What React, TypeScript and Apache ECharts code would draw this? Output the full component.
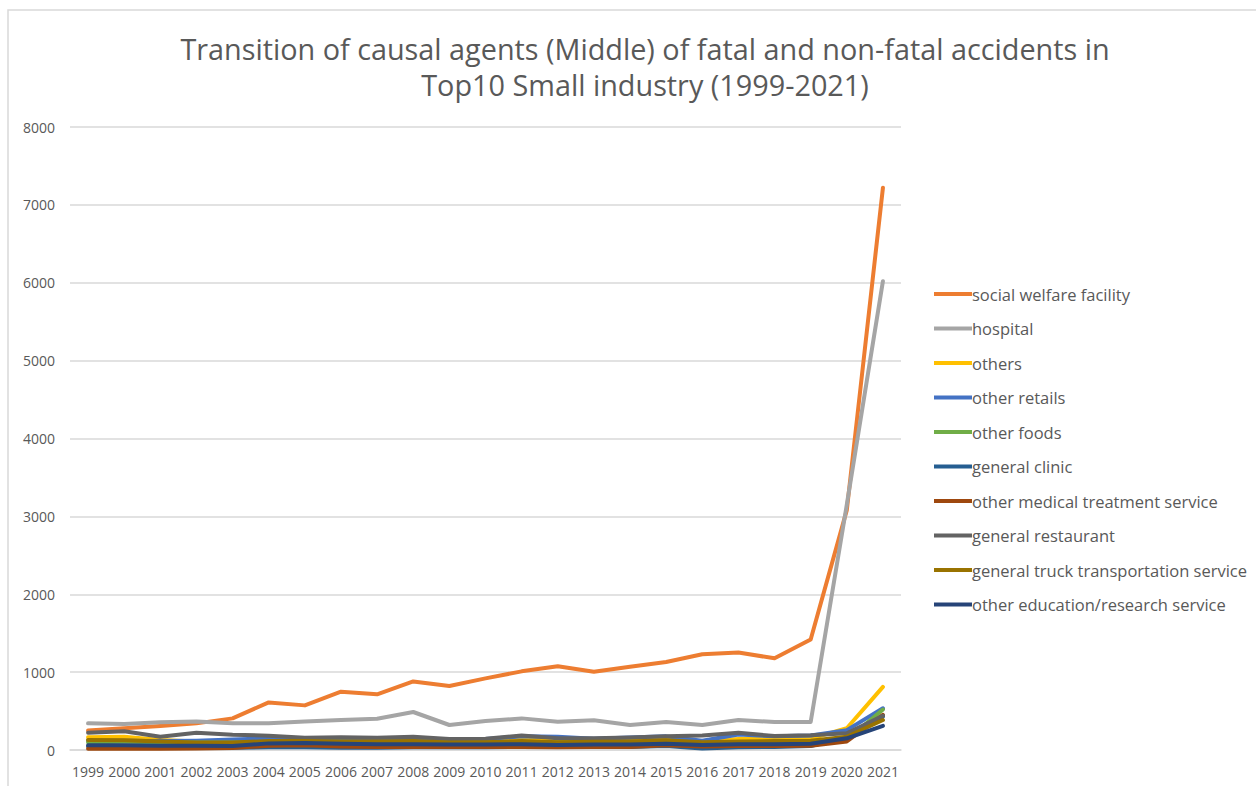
import React, { useEffect, useRef } from "react";
import * as echarts from "echarts";

const years = ["1999","2000","2001","2002","2003","2004","2005","2006","2007","2008","2009","2010","2011","2012","2013","2014","2015","2016","2017","2018","2019","2020","2021"];

const seriesNames = [
  "social welfare facility",
  "hospital",
  "others",
  "other retails",
  "other foods",
  "general clinic",
  "other medical treatment service",
  "general restaurant",
  "general truck transportation service",
  "other education/research service",
];

const socialWelfare = [250, 280, 308, 342, 406, 611, 573, 749, 715, 881, 821, 920, 1010, 1075, 1005, 1068, 1130, 1230, 1252, 1177, 1420, 3080, 7220];
const hospital = [342, 334, 355, 365, 342, 343, 365, 385, 402, 488, 321, 372, 406, 364, 381, 321, 359, 321, 385, 359, 359, 3150, 6020];
const others = [165, 170, 130, 110, 110, 120, 130, 140, 135, 130, 110, 115, 140, 110, 115, 120, 135, 110, 140, 150, 145, 280, 810];
const otherRetails = [120, 120, 115, 120, 135, 150, 145, 150, 150, 140, 130, 140, 175, 170, 145, 160, 175, 120, 200, 175, 185, 255, 535];
const otherFoods = [100, 105, 100, 95, 95, 100, 100, 105, 100, 100, 95, 95, 100, 95, 100, 95, 100, 90, 100, 100, 100, 130, 520];
const generalClinic = [45, 45, 40, 35, 30, 35, 35, 30, 30, 35, 35, 35, 40, 40, 40, 40, 50, 20, 35, 40, 50, 160, 430];
const otherMedical = [15, 15, 15, 20, 25, 55, 60, 45, 40, 40, 40, 40, 40, 35, 40, 40, 60, 45, 50, 50, 55, 110, 450];
const generalRestaurant = [222, 240, 171, 222, 197, 184, 158, 163, 158, 171, 141, 145, 185, 150, 150, 160, 175, 185, 220, 180, 190, 215, 440];
const truckTransport = [130, 125, 110, 95, 95, 115, 115, 110, 110, 115, 95, 100, 115, 100, 105, 110, 125, 100, 110, 115, 120, 170, 385];
const education = [60, 60, 55, 55, 50, 85, 90, 80, 75, 75, 70, 70, 75, 65, 70, 70, 80, 65, 75, 75, 80, 150, 310];

const seriesData = [socialWelfare, hospital, others, otherRetails, otherFoods, generalClinic, otherMedical, generalRestaurant, truckTransport, education];
const colors = ["#ED7D31", "#A5A5A5", "#FFC000", "#4472C4", "#70AD47", "#255E91", "#9E480E", "#636363", "#997300", "#264478"];

const yTicks = { min: 0, max: 8000, interval: 1000 };

const FONT = "'Open Sans', sans-serif";

export default function App() {
  const ref = useRef<HTMLDivElement>(null);
  useEffect(() => {
    if (!ref.current) return;
    const chart = echarts.init(ref.current, null, { renderer: "svg" });
    chart.setOption({
      animation: false,
      backgroundColor: "#ffffff",
      color: colors,
      title: {
        text: "Transition of causal agents (Middle) of fatal and non-fatal accidents in\nTop10 Small industry (1999-2021)",
        left: 640,
        top: 25,
        textAlign: "center",
        textStyle: {
          fontFamily: FONT,
          fontSize: 28.8,
          fontWeight: "normal",
          color: "#595959",
          lineHeight: 36,
        },
      },
      graphic: [
        {
          type: "rect",
          shape: { x: 8, y: 10, width: 1400, height: 1000 },
          style: { fill: "none", stroke: "#d9d9d9", lineWidth: 1.5 },
          silent: true,
        },
      ],
      legend: {
        orient: "vertical",
        left: 929,
        top: 279,
        itemWidth: 38,
        itemHeight: 4,
        itemGap: 14.5,
        icon: "rect",
        textStyle: {
          fontFamily: FONT,
          fontSize: 16.5,
          color: "#595959",
          lineHeight: 20,
          height: 20,
          padding: [0, 0, 0, -5],
        },
        data: seriesNames,
      },
      grid: { left: 70, right: 355, top: 127, bottom: 36, containLabel: false },
      xAxis: {
        type: "category",
        data: years,
        boundaryGap: true,
        axisLine: { show: true, lineStyle: { color: "#d9d9d9", width: 1.5 } },
        axisTick: { show: false },
        axisLabel: {
          interval: 0,
          fontFamily: FONT,
          fontSize: 14,
          color: "#595959",
          margin: 14,
        },
      },
      yAxis: {
        type: "value",
        min: yTicks.min,
        max: yTicks.max,
        interval: yTicks.interval,
        axisLine: { show: false },
        axisTick: { show: false },
        splitLine: { lineStyle: { color: "#d9d9d9", width: 1.5 } },
        axisLabel: {
          fontFamily: FONT,
          fontSize: 14,
          color: "#595959",
          margin: 15,
          formatter: (v: number) => String(v),
        },
      },
      series: seriesNames.map((name, i) => ({
        name,
        type: "line",
        data: seriesData[i],
        showSymbol: false,
        symbol: "none",
        lineStyle: { width: 4, color: colors[i], join: "round", cap: "round" },
        itemStyle: { color: colors[i] },
      })),
    });
    return () => chart.dispose();
  }, []);
  return (
    <div
      ref={ref}
      style={{ position: "fixed", left: 0, top: 0, width: 1256, height: 786 }}
    />
  );
}
